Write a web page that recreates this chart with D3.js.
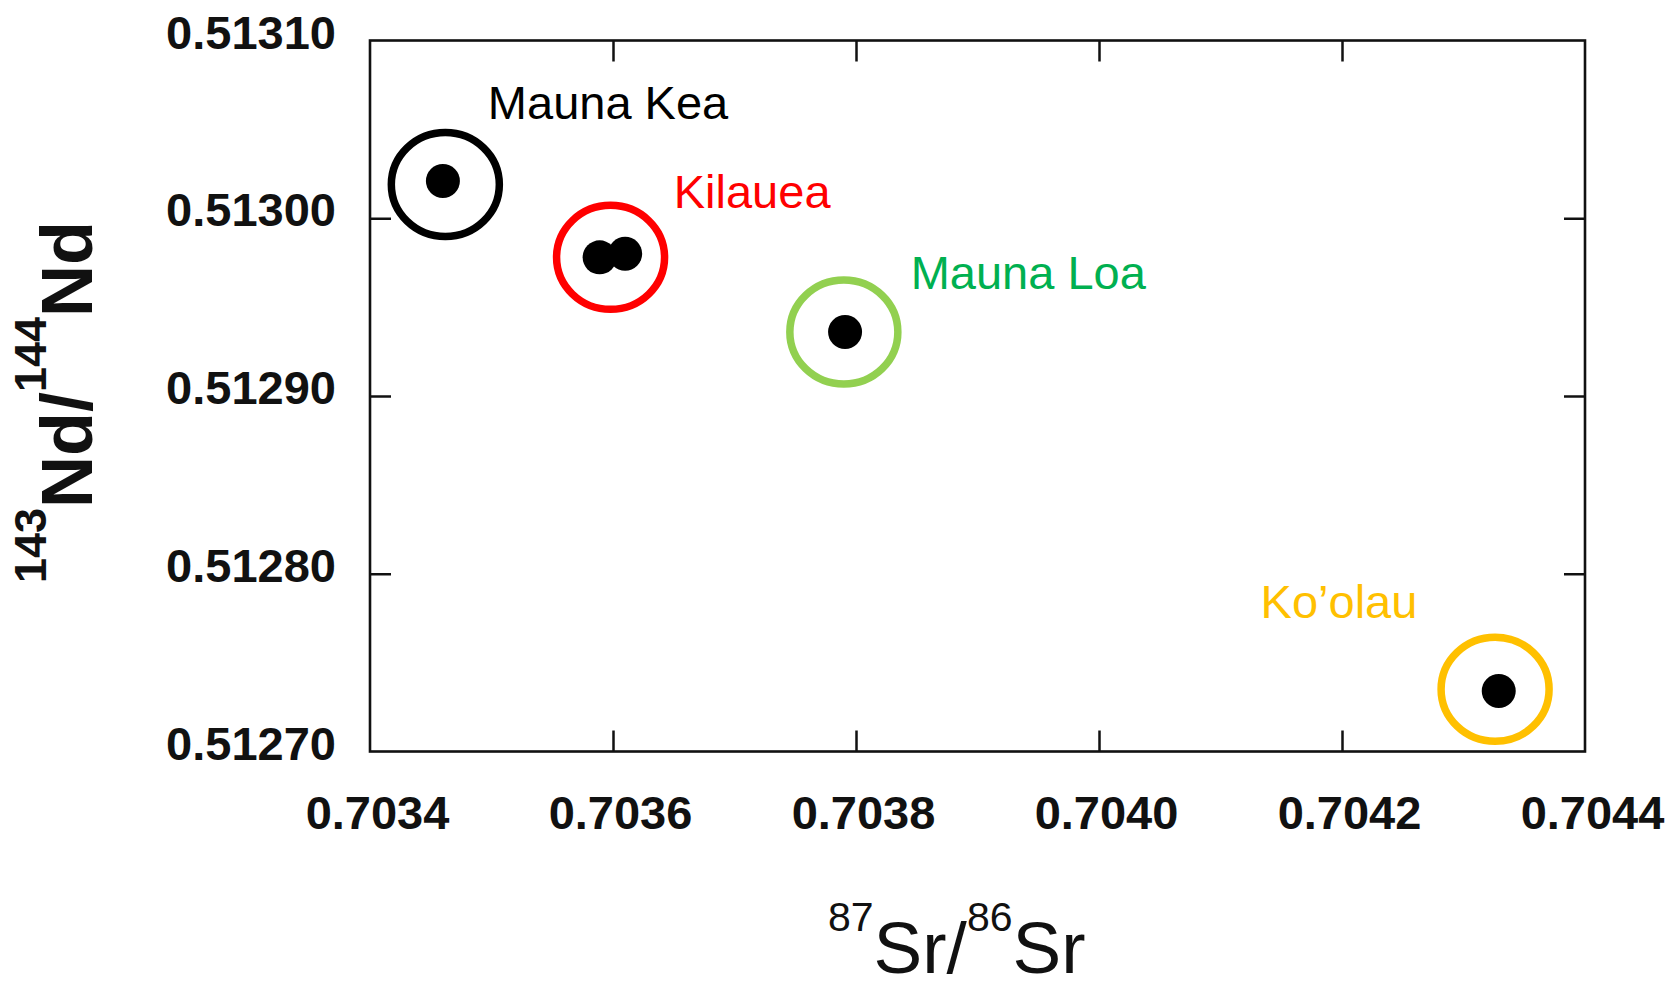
<!DOCTYPE html>
<html>
<head>
<meta charset="utf-8">
<script src="https://cdn.jsdelivr.net/npm/d3@7"></script>
<style>
  html, body { margin: 0; padding: 0; background: #ffffff; }
  svg { display: block; }
  text { font-family: "Liberation Sans", Arial, Helvetica, sans-serif; }
</style>
</head>
<body>
<svg id="chart" width="1670" height="989"></svg>
<script>
// ---- data ----
const xDomain = [0.7034, 0.7044];
const yDomain = [0.51270, 0.51310];
const xTicks = [0.7034, 0.7036, 0.7038, 0.7040, 0.7042, 0.7044];
const xTickLabels = ["0.7034", "0.7036", "0.7038", "0.7040", "0.7042", "0.7044"];
const yTicks = [0.51270, 0.51280, 0.51290, 0.51300, 0.51310];
const yTickLabels = ["0.51270", "0.51280", "0.51290", "0.51300", "0.51310"];

// individual samples (87Sr/86Sr, 143Nd/144Nd)
const sampleVolcano = ["Mauna Kea", "Kilauea", "Kilauea", "Mauna Loa", "Ko’olau"];
const sampleSr = [0.703460, 0.703589, 0.703610, 0.703791, 0.704329];
const sampleNd = [0.513021, 0.512978, 0.512980, 0.512936, 0.512734];

// volcano groups: ring centres and label anchors (data units)
const volcanoes = ["Mauna Kea", "Kilauea", "Mauna Loa", "Ko’olau"];
const groupSr = [0.703462, 0.703598, 0.703790, 0.704326];
const groupNd = [0.513019, 0.512978, 0.512936, 0.512735];
const labelSr = [0.703497, 0.703650, 0.703845, 0.704133];
const labelNd = [0.513056, 0.513006, 0.512960, 0.512775];
const ringColors = ["#000000", "#ff0000", "#92d050", "#ffc000"];
const textColors = ["#000000", "#ff0000", "#00b050", "#ffc000"];

// ---- layout ----
const plot = { left: 370, right: 1585, top: 40.5, bottom: 751.5 };

const svg = d3.select("#chart");
const x = d3.scaleLinear().domain(xDomain).range([plot.left, plot.right]);
const y = d3.scaleLinear().domain(yDomain).range([plot.bottom, plot.top]);

const TICK = 21;
const inner = (arr, lo, hi) => arr.filter(v => Math.abs(v - lo) > 1e-9 && Math.abs(v - hi) > 1e-9);

// bottom axis (ticks inward) with labels
const gB = svg.append("g").attr("transform", `translate(0,${plot.bottom})`)
  .call(d3.axisBottom(x).tickValues(xTicks).tickSizeInner(-TICK).tickSizeOuter(0)
    .tickFormat((d, i) => xTickLabels[i]));
gB.select(".domain").remove();
gB.selectAll(".tick line").attr("stroke", "#111").attr("stroke-width", 2.5)
  .attr("display", d => inner(xTicks, xDomain[0], xDomain[1]).includes(d) ? null : "none");
gB.selectAll(".tick text")
  .attr("y", 77).attr("dy", 0).attr("x", 7)
  .attr("fill", "#111")
  .style("font-size", "47px").style("font-weight", "bold")
  .style("font-family", "'Liberation Sans', Arial, sans-serif");

// top axis (ticks only)
const gT = svg.append("g").attr("transform", `translate(0,${plot.top})`)
  .call(d3.axisTop(x).tickValues(inner(xTicks, xDomain[0], xDomain[1])).tickSizeInner(-TICK).tickSizeOuter(0).tickFormat(""));
gT.select(".domain").remove();
gT.selectAll(".tick line").attr("stroke", "#111").attr("stroke-width", 2.5);

// left axis with labels
const gL = svg.append("g").attr("transform", `translate(${plot.left},0)`)
  .call(d3.axisLeft(y).tickValues(yTicks).tickSizeInner(-TICK).tickSizeOuter(0)
    .tickFormat((d, i) => yTickLabels[i]));
gL.select(".domain").remove();
gL.selectAll(".tick line").attr("stroke", "#111").attr("stroke-width", 2.5)
  .attr("display", d => inner(yTicks, yDomain[0], yDomain[1]).includes(d) ? null : "none");
gL.selectAll(".tick text")
  .attr("x", -34).attr("dy", 0).attr("y", 7.5)
  .attr("fill", "#111")
  .style("font-size", "47px").style("font-weight", "bold")
  .style("font-family", "'Liberation Sans', Arial, sans-serif");

// right axis (ticks only)
const gR = svg.append("g").attr("transform", `translate(${plot.right},0)`)
  .call(d3.axisRight(y).tickValues(inner(yTicks, yDomain[0], yDomain[1])).tickSizeInner(-TICK).tickSizeOuter(0).tickFormat(""));
gR.select(".domain").remove();
gR.selectAll(".tick line").attr("stroke", "#111").attr("stroke-width", 2.5);

// frame
svg.append("rect")
  .attr("x", plot.left).attr("y", plot.top)
  .attr("width", plot.right - plot.left).attr("height", plot.bottom - plot.top)
  .attr("fill", "none").attr("stroke", "#111").attr("stroke-width", 2.6);

// rings around volcano groups
svg.append("g").selectAll("ellipse").data(volcanoes).join("ellipse")
  .attr("cx", (d, i) => x(groupSr[i]))
  .attr("cy", (d, i) => y(groupNd[i]))
  .attr("rx", 54).attr("ry", 52)
  .attr("fill", "none")
  .attr("stroke", (d, i) => ringColors[i])
  .attr("stroke-width", 7.5);

// sample points
svg.append("g").selectAll("circle").data(sampleVolcano).join("circle")
  .attr("cx", (d, i) => x(sampleSr[i]))
  .attr("cy", (d, i) => y(sampleNd[i]))
  .attr("r", 17)
  .attr("fill", "#000");

// volcano labels
svg.append("g").selectAll("text").data(volcanoes).join("text")
  .attr("x", (d, i) => x(labelSr[i]))
  .attr("y", (d, i) => y(labelNd[i]))
  .attr("fill", (d, i) => textColors[i])
  .style("font-size", "47px")
  .text(d => d);

// x axis title: 87Sr/86Sr
const xt = svg.append("text")
  .attr("x", 828).attr("y", 973)
  .attr("fill", "#111")
  .style("font-size", "73px");
xt.append("tspan").attr("dy", -42).style("font-size", "41px").text("87");
xt.append("tspan").attr("dy", 42).text("Sr/");
xt.append("tspan").attr("dy", -42).style("font-size", "41px").text("86");
xt.append("tspan").attr("dy", 42).text("Sr");

// y axis title: 143Nd/144Nd (rotated, bold)
const yt = svg.append("text")
  .attr("transform", "translate(92,402) rotate(-90)")
  .attr("text-anchor", "middle")
  .attr("fill", "#111")
  .style("font-size", "72px").style("font-weight", "bold");
yt.append("tspan").attr("dy", -46).style("font-size", "45px").text("143");
yt.append("tspan").attr("dy", 46).text("Nd/");
yt.append("tspan").attr("dy", -46).style("font-size", "45px").text("144");
yt.append("tspan").attr("dy", 46).text("Nd");
</script>
</body>
</html>
